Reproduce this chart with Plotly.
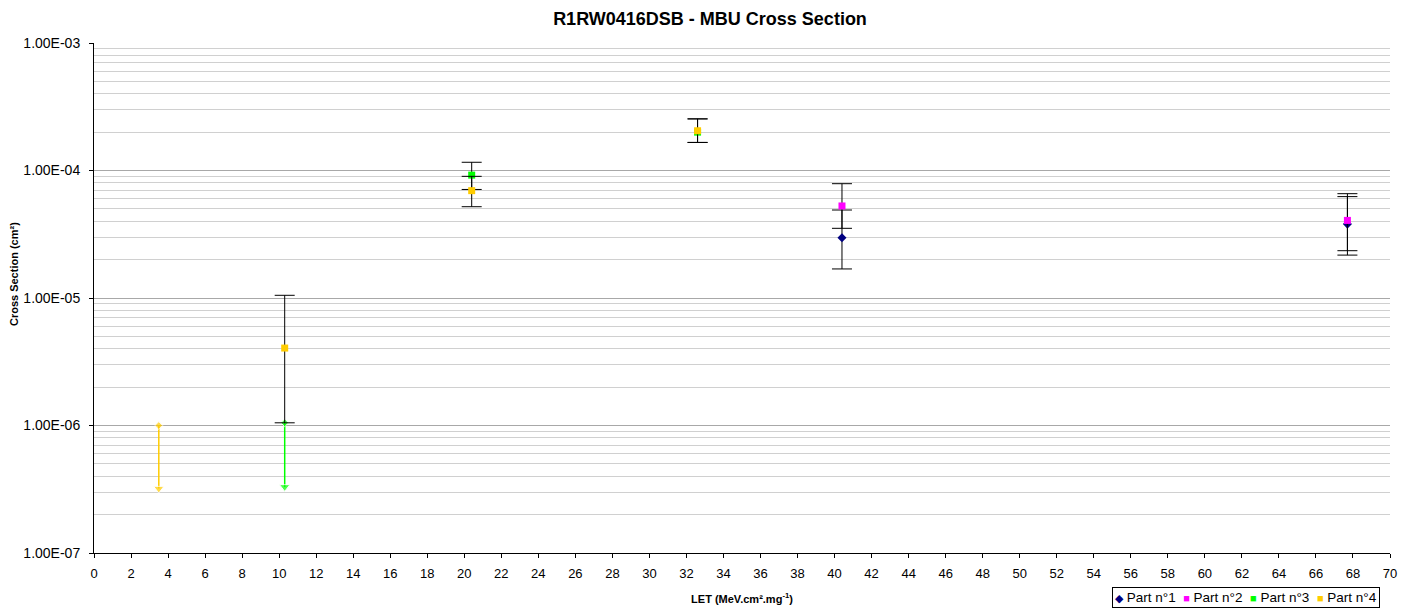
import plotly.graph_objects as go

# ---------------- data ----------------
title = "R1RW0416DSB - MBU Cross Section"

p1_let = [40.4, 67.7]
p1_xs = [2.97e-5, 3.80e-5]
p1_hi = [4.90e-5, 6.24e-5]
p1_lo = [1.69e-5, 2.17e-5]

p2_let = [40.4, 67.7]
p2_xs = [5.27e-5, 4.06e-5]
p2_hi = [7.88e-5, 6.58e-5]
p2_lo = [3.52e-5, 2.35e-5]

p3_let = [20.4, 32.6]
p3_xs = [9.2e-5, 2.00e-4]
p3_hi = [1.16e-4, 2.54e-4]
p3_lo = [7.1e-5, 1.66e-4]

p4_let = [10.3, 20.4, 32.6]
p4_xs = [4.05e-6, 6.95e-5, 2.05e-4]
p4_hi = [1.05e-5, 9.0e-5, 2.54e-4]
p4_lo = [1.05e-6, 5.2e-5, 1.66e-4]

# upper-limit arrows (no event): from value down to arrow tip
p4_lim_let = [3.5, 3.5]
p4_lim_xs = [1.0e-6, 3.2e-7]
p3_lim_let = [10.3, 10.3]
p3_lim_xs = [1.05e-6, 3.3e-7]

y_tickvals = [1e-7, 1e-6, 1e-5, 1e-4, 1e-3]
y_ticktext = ["1.00E-07", "1.00E-06", "1.00E-05", "1.00E-04", "1.00E-03"]

names = ["Part n°1", "Part n°2", "Part n°3", "Part n°4"]
colors = ["#000080", "#FF00FF", "#00FF00", "#FFCC00"]
symbols = ["diamond", "square", "square", "square"]
legend_glyphs = ["◆", "■", "■", "■"]

FONT = "Arial, Liberation Sans, sans-serif"

fig = go.Figure()

# limit arrows (drawn first, under markers)
for lx, ly, col in [(p4_lim_let, p4_lim_xs, colors[3]), (p3_lim_let, p3_lim_xs, colors[2])]:
    fig.add_trace(go.Scatter(
        x=lx, y=ly, mode="lines+markers", showlegend=False, hoverinfo="skip",
        line=dict(color=col, width=1.5),
        marker=dict(symbol=["diamond", "triangle-down"], size=[6, 9], color=col),
    ))

series = [
    (p1_let, p1_xs, p1_hi, p1_lo),
    (p2_let, p2_xs, p2_hi, p2_lo),
    (p3_let, p3_xs, p3_hi, p3_lo),
    (p4_let, p4_xs, p4_hi, p4_lo),
]
for i, (lx, ys, hi, lo) in enumerate(series):
    fig.add_trace(go.Scatter(
        x=lx, y=ys, mode="markers", name=names[i], showlegend=False,
        marker=dict(symbol=symbols[i], size=7, color=colors[i]),
        error_y=dict(
            type="data", symmetric=False,
            array=[h - y for h, y in zip(hi, ys)],
            arrayminus=[y - l for y, l in zip(ys, lo)],
            color="#000000", thickness=1, width=10,
        ),
    ))

# compact Excel-style legend box built from the series names/colours
legend_text = "&nbsp; ".join(
    f"<span style='color:{c};font-size:11px'>{g}</span> {n}"
    for g, c, n in zip(legend_glyphs, colors, names)
)

# page body has an 8px margin: figure spans 8..1412 x 8..608
fig.update_layout(
    width=1404, height=600,
    margin=dict(l=86, r=22, t=35, b=55, autoexpand=False),
    paper_bgcolor="white", plot_bgcolor="white",
    font=dict(family=FONT, size=13, color="black"),
    title=dict(text="<b>" + title + "</b>", x=0.5, xanchor="center", y=0.982, yanchor="middle",
               font=dict(family=FONT, size=18, color="black")),
    showlegend=False,
    annotations=[
        dict(
            text="<b>Cross Section (cm²)</b>", textangle=-90,
            xref="paper", yref="paper", x=-0.0617, y=0.547,
            xanchor="center", yanchor="middle", showarrow=False,
            font=dict(family=FONT, size=11, color="black"),
        ),
        dict(
            text=legend_text,
            xref="paper", yref="paper", x=0.9923, y=-0.0863,
            xanchor="right", yanchor="middle", showarrow=False,
            bordercolor="black", borderwidth=1, borderpad=2, bgcolor="white",
            font=dict(family=FONT, size=13.5, color="black"),
        ),
    ],
)

fig.update_xaxes(
    range=[0, 70], dtick=2, tick0=0,
    showgrid=False, zeroline=False, automargin=False,
    showline=True, linecolor="black", linewidth=1,
    ticks="outside", ticklen=4, tickcolor="black",
    ticklabelstandoff=4,
    tickfont=dict(size=13),
    title=dict(text="<b>LET (MeV.cm².mg<sup>-1</sup>)</b>", font=dict(size=11), standoff=15),
)
fig.update_yaxes(
    type="log", range=[-7, -3],
    tickvals=y_tickvals, ticktext=y_ticktext,
    showgrid=True, gridcolor="#a8a8a8", gridwidth=1,
    zeroline=False, automargin=False,
    showline=True, linecolor="black", linewidth=1,
    ticks="outside", ticklen=4, tickcolor="black",
    ticklabelstandoff=6,
    tickfont=dict(size=14),
    minor=dict(showgrid=True, gridcolor="#d0d0d0", gridwidth=1, dtick="D1", ticks=""),
)

fig.write_html("out.html")
